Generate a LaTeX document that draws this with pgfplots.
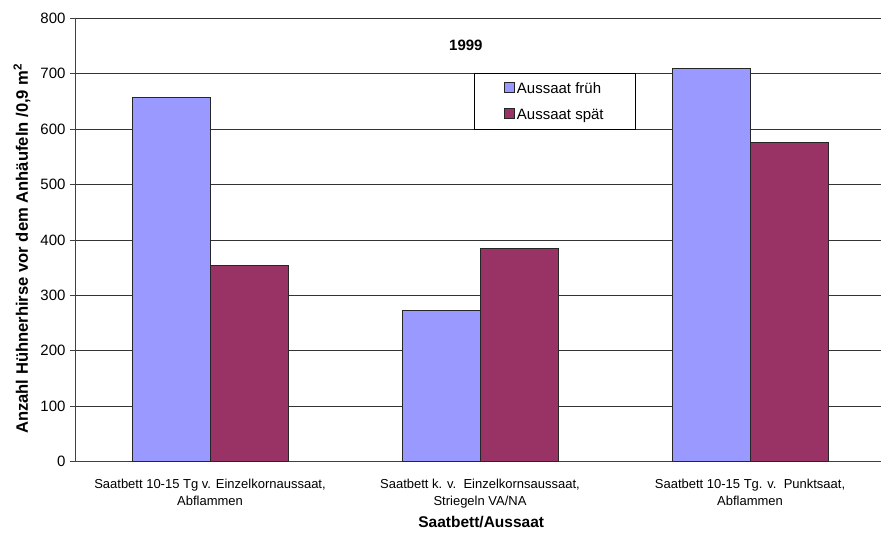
\documentclass[border=0pt]{standalone}
\usepackage{fontspec}
\setmainfont{Liberation Sans}
\usepackage{pgfplots}
\pgfplotsset{compat=1.18}
\definecolor{frueh}{HTML}{9999FF}
\definecolor{spaet}{HTML}{993366}
\begin{document}
\begin{tikzpicture}
\begin{axis}[
  at={(0pt,0pt)}, anchor=south west,
  scale only axis, width=806pt, height=443.2pt,
  ybar=0pt, bar width=78pt,
  xmin=-0.5, xmax=2.485, ymin=0, ymax=800,
  axis x line*=bottom, axis y line*=left,
  axis line style={black!75, line width=0.8pt},
  /pgf/number format/assume math mode=true,
  ytick={0,100,...,800},
  ymajorgrids, grid style={black!80, line width=0.6pt},
  tick align=outside, major tick length=5pt,
  tick style={black!75, line width=0.8pt},
  yticklabel style={font=\fontsize{15}{17}\selectfont, xshift=-1pt},
  xtick={0,1,2},
  xticklabels={{Saatbett 10-15 Tg v. Einzelkornaussaat,\\Abflammen},
               {Saatbett k. v.\ \ Einzelkornsaussaat,\\Striegeln VA/NA},
               {Saatbett 10-15 Tg. v.\ \ Punktsaat,\\Abflammen}},
  xticklabel style={align=center, font=\fontsize{13}{17}\selectfont, yshift=-9pt},
  x tick style={draw=none},
  extra x ticks={-0.5,0.5,1.5},
  extra x tick labels={},
  extra x tick style={tick style={black!75, line width=0.8pt}, major tick length=5pt},
  xlabel={Saatbett/Aussaat},
  xlabel style={font=\bfseries\fontsize{15.5}{17}\selectfont, at={(axis description cs:0.504,0)}, anchor=center, yshift=-60.5pt},
  ylabel={Anzahl Hühnerhirse vor dem Anhäufeln /0,9 m\textsuperscript{2}},
  ylabel style={font=\bfseries\fontsize{16.6}{18}\selectfont, at={(axis description cs:-0.0658,0.48)}, anchor=center},
  legend style={at={(axis description cs:0.495,0.8766)}, anchor=north west,
    draw=black, line width=0.8pt, font=\fontsize{15}{17}\selectfont,
    inner xsep=30pt, inner ysep=7pt, row sep=10pt},
  legend cell align=left,
  legend image code/.code={\draw[#1, line width=0.6pt] (0pt,-4pt) rectangle (10pt,6pt);},
]
\addplot[fill=frueh, draw=black!85, line width=0.7pt] coordinates {(0,657) (1,272) (2,710)};
\addlegendentry{Aussaat früh}
\addplot[fill=spaet, draw=black!85, line width=0.7pt] coordinates {(0,354) (1,384) (2,576)};
\addlegendentry{Aussaat spät}
\node[font=\bfseries\fontsize{15}{17}\selectfont] at (axis description cs:0.485,0.94) {1999};
\end{axis}
\pgfresetboundingbox
\path[use as bounding box] (-75pt,-71.5pt) rectangle (806pt,461.5pt);
\end{tikzpicture}
\end{document}
